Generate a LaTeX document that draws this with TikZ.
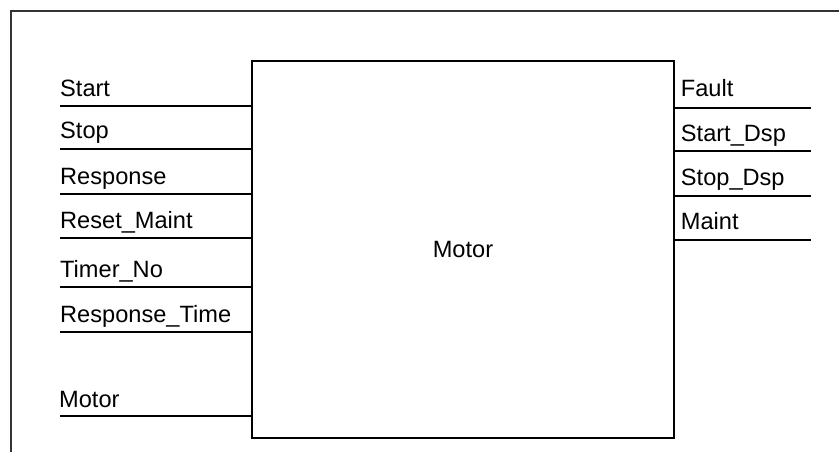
\documentclass[tikz,border=0pt]{standalone}
\usepackage{fontspec}
\setmainfont{Liberation Sans}
\usetikzlibrary{positioning}

\begin{document}
\begin{tikzpicture}[
    x=1pt, y=-1pt,
    font=\fontsize{23.6}{28}\selectfont,
    block/.style={draw, line width=1.5pt, minimum width=422pt, minimum height=377pt, inner sep=0pt},
    port/.style={line width=1.3pt},
    pin/.style={anchor=base west, inner sep=0pt}
]
\useasboundingbox (0,0) rectangle (839,452);

% Frame
\coordinate (frameTR) at (839,11);
\coordinate (frameTL) at (11,11);
\coordinate (frameBL) at (11,452);
\draw[line width=1.7pt, black!80] (frameTR) -- (frameTL) -- (frameBL);

% Block
\node[block] (motor) at (463,249.5) {Motor};

% Inputs
\coordinate (start) at (60,106);
\coordinate (stop) at (60,149);
\coordinate (response) at (60,194);
\coordinate (resetMaint) at (60,238);
\coordinate (timerNo) at (60,287);
\coordinate (responseTime) at (60,332);
\coordinate (motorIn) at (60,416);

\node[pin] (startL) at ([yshift=10pt]start) {Start};
\node[pin] (stopL) at ([yshift=10pt]stop) {Stop};
\node[pin] (responseL) at ([yshift=10pt]response) {Response};
\node[pin] (resetMaintL) at ([yshift=10pt]resetMaint) {Reset\_Maint};
\node[pin] (timerNoL) at ([yshift=10pt]timerNo) {Timer\_No};
\node[pin] (responseTimeL) at ([yshift=10pt]responseTime) {Response\_Time};
\node[pin] (motorInL) at ([xshift=-1pt, yshift=9pt]motorIn) {Motor};

\draw[port] (start) -- (start -| motor.west);
\draw[port] (stop) -- (stop -| motor.west);
\draw[port] (response) -- (response -| motor.west);
\draw[port] (resetMaint) -- (resetMaint -| motor.west);
\draw[port] (timerNo) -- (timerNo -| motor.west);
\draw[port] (responseTime) -- (responseTime -| motor.west);
\draw[port] (motorIn) -- (motorIn -| motor.west);

% Outputs
\coordinate (fault) at (811,108);
\coordinate (startDsp) at (811,151);
\coordinate (stopDsp) at (811,196);
\coordinate (maint) at (811,240);

\node[pin] (faultL) at ([xshift=6pt, yshift=11pt]fault -| motor.east) {Fault};
\node[pin] (startDspL) at ([xshift=6pt, yshift=10pt]startDsp -| motor.east) {Start\_Dsp};
\node[pin] (stopDspL) at ([xshift=6pt, yshift=10.5pt]stopDsp -| motor.east) {Stop\_Dsp};
\node[pin] (maintL) at ([xshift=6pt, yshift=10.5pt]maint -| motor.east) {Maint};

\draw[port] (fault -| motor.east) -- (fault);
\draw[port] (startDsp -| motor.east) -- (startDsp);
\draw[port] (stopDsp -| motor.east) -- (stopDsp);
\draw[port] (maint -| motor.east) -- (maint);

\end{tikzpicture}
\end{document}
